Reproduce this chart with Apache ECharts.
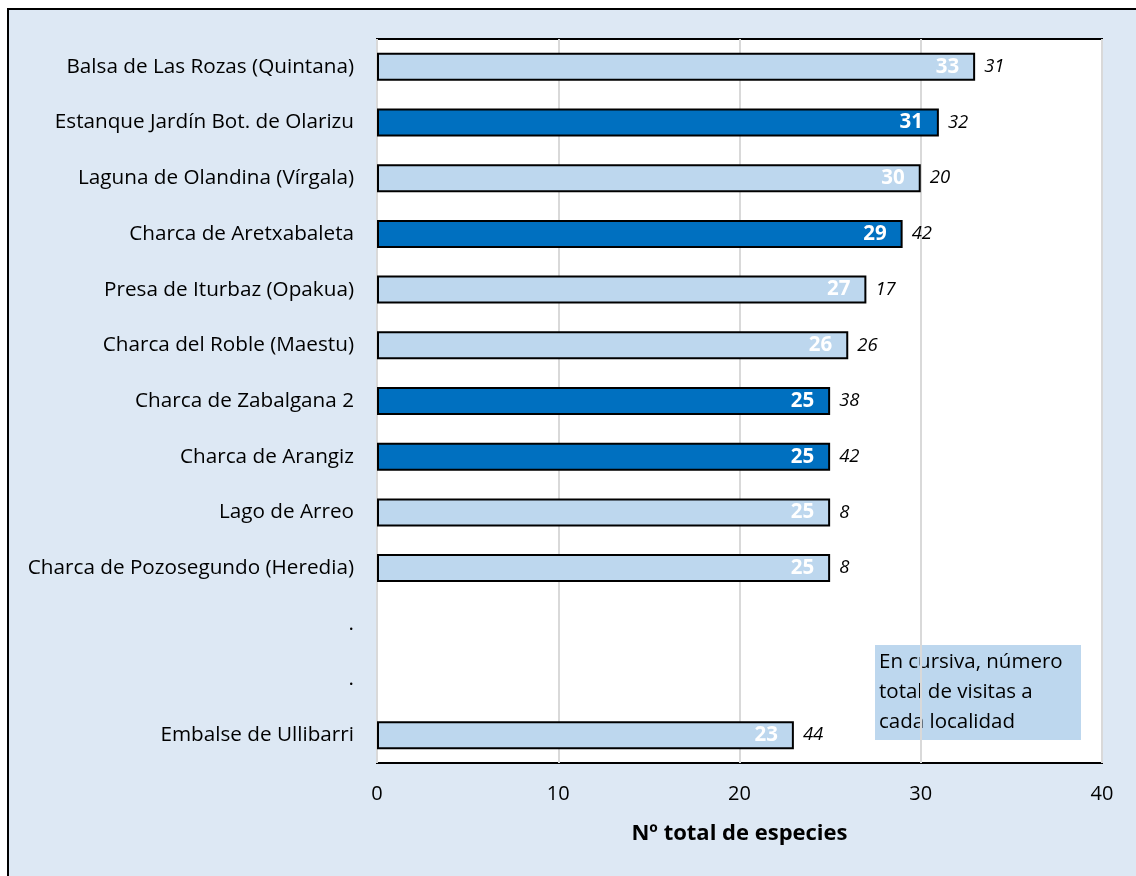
<!DOCTYPE html>
<html>
<head>
<meta charset="utf-8">
<script src="https://cdn.jsdelivr.net/npm/echarts@6/dist/echarts.min.js"></script>
<style>
html,body{margin:0;padding:0;background:#ffffff;}
#chart{width:1136px;height:876px;}
</style>
</head>
<body>
<div id="chart"></div>
<script>
const categories = [
  'Balsa de Las Rozas (Quintana)',
  'Estanque Jardín Bot. de Olarizu',
  'Laguna de Olandina (Vírgala)',
  'Charca de Aretxabaleta',
  'Presa de Iturbaz (Opakua)',
  'Charca del Roble (Maestu)',
  'Charca de Zabalgana 2',
  'Charca de Arangiz',
  'Lago de Arreo',
  'Charca de Pozosegundo (Heredia)',
  '.',
  '. ',
  'Embalse de Ullibarri'
];
const species = [33, 31, 30, 29, 27, 26, 25, 25, 25, 25, null, null, 23];
const visits  = [31, 32, 20, 42, 17, 26, 38, 42, 8, 8, null, null, 44];
const highlighted = [false, true, false, true, false, false, true, true, false, false, false, false, false];
const xTicks = [0, 10, 20, 30, 40];
const axisTitle = 'Nº total de especies';
const noteText = 'En cursiva, número\ntotal de visitas a\ncada localidad';

const LIGHT = '#bdd7ee';
const DARK = '#0070c0';
const FONT = '"Open Sans", "Noto Sans", sans-serif';

const chart = echarts.init(document.getElementById('chart'), null, {renderer: 'canvas'});

const mainData = species.map((v, i) => v == null ? '-' : {
  value: v,
  itemStyle: { color: highlighted[i] ? DARK : LIGHT }
});
const visitData = species.map((v, i) => v == null ? '-' : { value: v, visits: visits[i] });

chart.setOption({
  backgroundColor: '#ffffff',
  animation: false,
  graphic: [
    {
      type: 'rect', z: -10, silent: true,
      shape: { x: 8, y: 9, width: 1200, height: 1000 },
      style: { fill: '#dde8f4', stroke: '#000000', lineWidth: 2 }
    },
    {
      type: 'group', left: 866, top: 633, z: 100,
      children: [
        { type: 'rect', shape: { x: 0, y: 0, width: 224, height: 125 }, style: { fill: '#ffffff' } },
        { type: 'rect', shape: { x: 9, y: 12, width: 206, height: 95 }, style: { fill: '#bdd7ee' } },
        { type: 'text', x: 13, y: 14, style: { text: noteText, fill: '#000', font: '20.5px ' + FONT, lineHeight: 30 } }
      ]
    }
  ],
  grid: {
    left: 377, top: 39, width: 725, height: 724,
    show: true, backgroundColor: '#ffffff', borderColor: '#000000', borderWidth: 2,
    containLabel: false
  },
  xAxis: {
    type: 'value', min: 0, max: 40, interval: 10,
    axisLine: { show: false },
    axisTick: { show: false },
    splitLine: { show: true, lineStyle: { color: '#d9d9d9', width: 2 } },
    axisLabel: {
      color: '#000', fontSize: 20, fontFamily: FONT, margin: 21,
      customValues: xTicks
    },
    name: axisTitle, nameLocation: 'middle', nameGap: 60,
    nameTextStyle: { color: '#000', fontSize: 22, fontWeight: 'bold', fontFamily: FONT }
  },
  yAxis: {
    type: 'category', data: categories, inverse: true,
    axisLine: { show: false },
    axisTick: { show: false },
    axisLabel: { color: '#000', fontSize: 20.7, fontFamily: FONT, margin: 23, formatter: v => v.trim() }
  },
  series: [
    {
      type: 'bar', data: mainData, barWidth: 28, z: 2,
      itemStyle: { borderColor: '#000', borderWidth: 2 },
      label: {
        show: true, position: 'insideRight', distance: 16,
        color: '#ffffff', fontWeight: 'bold', fontSize: 20.5, fontFamily: FONT
      }
    },
    {
      type: 'bar', data: visitData, barWidth: 28, barGap: '-100%', z: 3,
      itemStyle: { color: 'rgba(0,0,0,0)' },
      label: {
        show: true, position: 'right', distance: 9,
        color: '#000', fontStyle: 'italic', fontSize: 18.5, fontFamily: FONT,
        formatter: p => p.data.visits
      }
    }
  ]
});
</script>
</body>
</html>
